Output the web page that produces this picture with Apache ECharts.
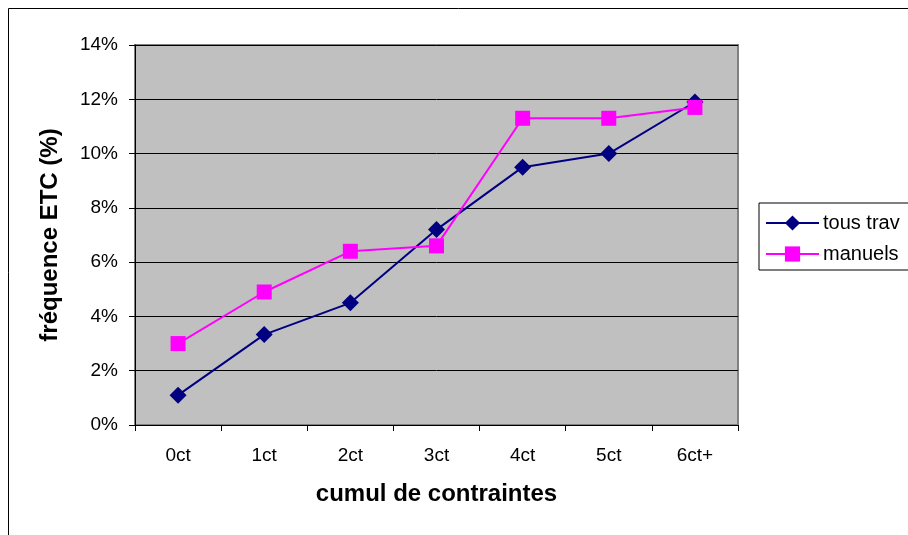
<!DOCTYPE html>
<html>
<head>
<meta charset="utf-8">
<script src="https://cdn.jsdelivr.net/npm/echarts@6/dist/echarts.min.js"></script>
<style>
  html, body { margin: 0; padding: 0; background: #fff; }
  #chart { width: 908px; height: 535px; }
</style>
</head>
<body>
<div id="chart"></div>
<script>
// categories and values (percent)
var categories = ['0ct', '1ct', '2ct', '3ct', '4ct', '5ct', '6ct+'];
var tousTrav = [1.1, 3.33, 4.5, 7.2, 9.5, 10.0, 11.9];
var manuels = [3.0, 4.9, 6.4, 6.6, 11.3, 11.3, 11.7];

var font = 'Liberation Sans, Arial, sans-serif';

var myChart = echarts.init(document.getElementById('chart'));
var option = {
    animation: false,
    backgroundColor: '#fff',
    textStyle: { fontFamily: font },
    graphic: [{
        // outer chart frame (only top and left edges visible)
        type: 'rect',
        shape: { x: 8.5, y: 8.5, width: 950, height: 600 },
        style: { fill: null, stroke: '#000', lineWidth: 1 },
        silent: true
    }],
    grid: {
        show: true,
        left: 135,
        top: 45,
        right: 170,
        bottom: 110,
        backgroundColor: '#C0C0C0',
        borderColor: '#808080',
        borderWidth: 2
    },
    legend: {
        orient: 'vertical',
        left: 759,
        top: 203,
        itemWidth: 53,
        itemHeight: 19,
        itemGap: 11,
        padding: [10, 40, 6, 6],
        borderColor: '#000',
        borderWidth: 1,
        backgroundColor: '#fff',
        textStyle: { fontFamily: font, fontSize: 20, color: '#000', padding: [0, 0, 0, -1] },
        data: ['tous trav', 'manuels']
    },
    xAxis: {
        type: 'category',
        data: categories,
        boundaryGap: true,
        name: 'cumul de contraintes',
        nameLocation: 'middle',
        nameGap: 57,
        nameTextStyle: { fontFamily: font, fontSize: 24, fontWeight: 'bold', color: '#000' },
        axisLine: { lineStyle: { color: '#000', width: 1 } },
        axisTick: { show: true, length: 6, inside: false, lineStyle: { color: '#000' } },
        axisLabel: { fontFamily: font, fontSize: 19, color: '#000', margin: 21 },
        splitLine: { show: false }
    },
    yAxis: {
        type: 'value',
        min: 0,
        max: 14,
        interval: 2,
        name: 'fréquence ETC (%)',
        nameLocation: 'middle',
        nameGap: 73,
        nameRotate: 90,
        nameTextStyle: { fontFamily: font, fontSize: 24, fontWeight: 'bold', color: '#000' },
        axisLine: { show: true, lineStyle: { color: '#000', width: 1 } },
        axisTick: { show: true, length: 6, lineStyle: { color: '#000' } },
        axisLabel: {
            fontFamily: font, fontSize: 19, color: '#000', margin: 17,
            formatter: function (v) { return v + '%'; }
        },
        splitLine: { show: true, lineStyle: { color: '#000', width: 1 } }
    },
    series: [{
        name: 'tous trav',
        type: 'line',
        data: tousTrav,
        symbol: 'diamond',
        symbolSize: 17,
        lineStyle: { color: '#000080', width: 2 },
        itemStyle: { color: '#000080' },
        z: 3
    }, {
        name: 'manuels',
        type: 'line',
        data: manuels,
        symbol: 'rect',
        symbolSize: 15,
        lineStyle: { color: '#FF00FF', width: 2 },
        itemStyle: { color: '#FF00FF' },
        z: 4
    }]
};
myChart.setOption(option);
</script>
</body>
</html>
